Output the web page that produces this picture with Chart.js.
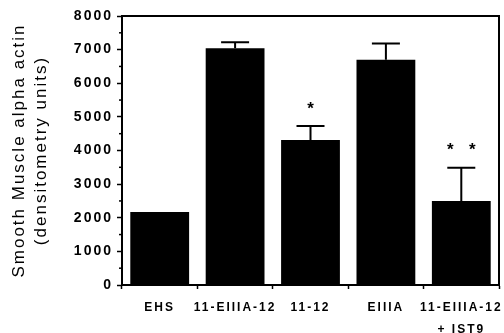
<!DOCTYPE html>
<html>
<head>
<meta charset="utf-8">
<script src="https://cdn.jsdelivr.net/npm/chart.js@4"></script>
<style>
  html, body { margin: 0; padding: 0; background: #fff; }
  #wrap { width: 504px; height: 333px; }
</style>
</head>
<body>
<div id="wrap"><canvas id="barChart"></canvas></div>
<script>
// data
const groups = ['EHS', '11-EIIIA-12', '11-12', 'EIIIA', ['11-EIIIA-12', '+ IST9']];
const actinMeans = [2170, 7040, 4310, 6700, 2500];
const actinErrors = [0, 180, 420, 480, 990];
const marks = ['', '', '*', '', '* *'];
const yTicks = [0, 1000, 2000, 3000, 4000, 5000, 6000, 7000, 8000];

const FONT = '"Liberation Sans", Arial, Helvetica, sans-serif';

// old print style has wide letter spacing
const spacing = {
    id: 'spacing',
    beforeDraw(chart) { chart.ctx.letterSpacing = '2px'; }
};

// box, minor ticks, error bars and stars
const extras = {
    id: 'extras',
    afterDatasetsDraw(chart) {
        const ctx = chart.ctx;
        const area = chart.chartArea;
        const y = chart.scales.y;
        ctx.save();
        ctx.letterSpacing = '0px';
        ctx.strokeStyle = '#000';
        ctx.lineWidth = 2;
        // top and right frame
        ctx.beginPath();
        ctx.moveTo(area.left, area.top);
        ctx.lineTo(area.right, area.top);
        ctx.lineTo(area.right, area.bottom);
        ctx.stroke();
        // minor ticks at half steps
        ctx.lineWidth = 1.5;
        for (let i = 0; i < yTicks.length - 1; i++) {
            const py = y.getPixelForValue((yTicks[i] + yTicks[i + 1]) / 2);
            ctx.beginPath();
            ctx.moveTo(area.left - 3, py);
            ctx.lineTo(area.left, py);
            ctx.stroke();
        }
        // error bars
        const meta = chart.getDatasetMeta(0);
        ctx.lineWidth = 2;
        ctx.fillStyle = '#000';
        ctx.font = 'bold 17px ' + FONT;
        ctx.textAlign = 'center';
        ctx.textBaseline = 'middle';
        meta.data.forEach((bar, i) => {
            const top = y.getPixelForValue(actinMeans[i] + actinErrors[i]);
            if (actinErrors[i] > 0) {
                ctx.beginPath();
                ctx.moveTo(bar.x, bar.y);
                ctx.lineTo(bar.x, top);
                ctx.moveTo(bar.x - 14, top);
                ctx.lineTo(bar.x + 14, top);
                ctx.stroke();
            }
            const stars = marks[i].split(' ').filter(s => s);
            stars.forEach((s, k) => {
                const off = (k - (stars.length - 1) / 2) * 22;
                ctx.fillText(s, bar.x + off, top - 17);
            });
        });
        ctx.restore();
    }
};

const ctx = document.getElementById('barChart').getContext('2d');
new Chart(ctx, {
    type: 'bar',
    data: {
        labels: groups,
        datasets: [{
            data: actinMeans,
            backgroundColor: '#000',
            borderWidth: 0,
            barPercentage: 0.78,
            categoryPercentage: 1
        }]
    },
    options: {
        responsive: true,
        maintainAspectRatio: false,
        animation: false,
        layout: { padding: { top: 16, right: 5, left: 0, bottom: 0 } },
        plugins: { legend: { display: false }, tooltip: { enabled: false } },
        scales: {
            x: {
                offset: true,
                border: { color: '#000', width: 2 },
                grid: { drawOnChartArea: false, offset: true, tickLength: 4, tickColor: '#000', tickWidth: 1.5 },
                ticks: {
                    color: '#000',
                    maxRotation: 0,
                    autoSkip: false,
                    padding: 8,
                    font: { family: FONT, size: 12, weight: 'bold', lineHeight: 1.8 }
                },
                afterFit(scale) { scale.height = 48; }
            },
            y: {
                min: 0,
                max: 8000,
                border: { color: '#000', width: 2 },
                grid: { drawOnChartArea: false, tickLength: 5, tickColor: '#000', tickWidth: 1.5 },
                afterBuildTicks(scale) { scale.ticks = yTicks.map(v => ({ value: v })); },
                ticks: {
                    color: '#000',
                    padding: 4,
                    font: { family: FONT, size: 14, weight: 'bold' },
                    callback: v => String(v)
                },
                title: {
                    display: true,
                    text: ['Smooth Muscle alpha actin', '(densitometry units)'],
                    color: '#000',
                    padding: { top: 8, bottom: 0 },
                    font: { family: FONT, size: 17, lineHeight: 1.3 }
                },
                afterFit(scale) { scale.width = 122; }
            }
        }
    },
    plugins: [spacing, extras]
});
</script>
</body>
</html>
